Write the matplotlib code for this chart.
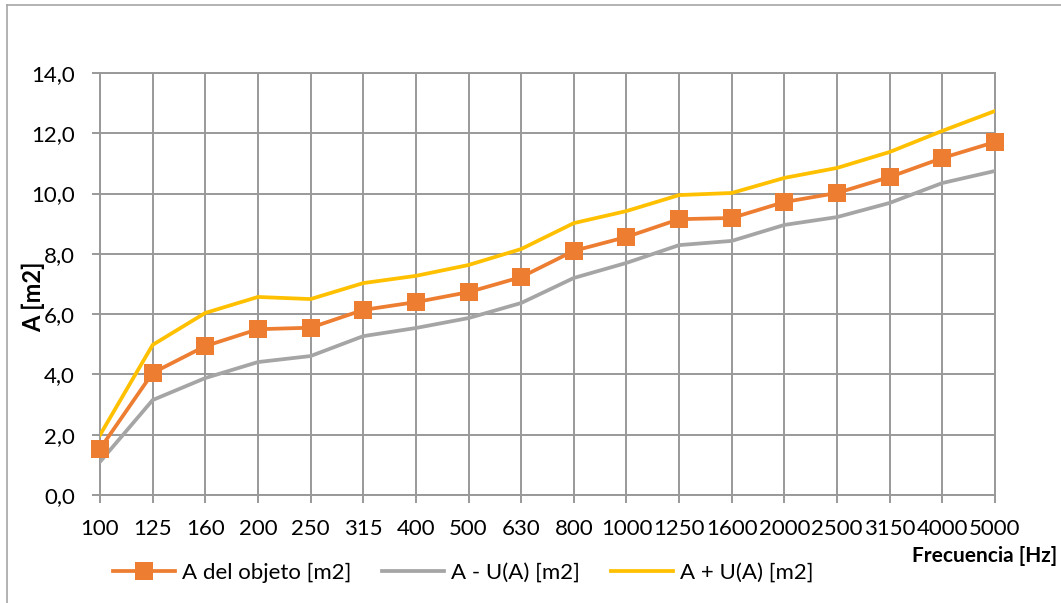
import matplotlib
matplotlib.use("Agg")
import matplotlib.pyplot as plt
from matplotlib.lines import Line2D

plt.rcParams['font.family'] = ['Lato', 'DejaVu Sans']

frequencies = ["100", "125", "160", "200", "250", "315", "400", "500", "630", "800",
               "1000", "1250", "1600", "2000", "2500", "3150", "4000", "5000"]
a_objeto = [1.53, 4.05, 4.94, 5.50, 5.55, 6.14, 6.40, 6.73, 7.23, 8.10,
            8.56, 9.15, 9.19, 9.72, 10.02, 10.55, 11.18, 11.71]
a_menos_u = [1.10, 3.15, 3.88, 4.41, 4.61, 5.27, 5.54, 5.87, 6.37, 7.20,
             7.70, 8.29, 8.43, 8.96, 9.22, 9.69, 10.35, 10.75]
a_mas_u = [1.99, 4.98, 6.04, 6.57, 6.50, 7.03, 7.27, 7.63, 8.16, 9.02,
           9.42, 9.95, 10.02, 10.52, 10.85, 11.38, 12.08, 12.74]
y_ticks = [0, 2, 4, 6, 8, 10, 12, 14]
series_labels = ["A del objeto [m2]", "A - U(A) [m2]", "A + U(A) [m2]"]

W, H = 1061, 603
fig = plt.figure(figsize=(W / 100, H / 100), dpi=100)
ax = fig.add_axes([100 / W, 1 - 495 / H, (995 - 100) / W, (495 - 73) / H])

x = list(range(len(frequencies)))
grid_c = '#999999'
ax.plot(x, a_objeto, color='#ED7D31', lw=2.7, marker='s', markersize=12.5,
        markeredgewidth=0, label=series_labels[0], zorder=4, clip_on=False)
ax.plot(x, a_menos_u, color='#A5A5A5', lw=2.7, label=series_labels[1], zorder=3)
ax.plot(x, a_mas_u, color='#FFC000', lw=2.7, label=series_labels[2], zorder=3)

ax.set_xlim(0, len(frequencies) - 1)
ax.set_ylim(0, 14)
ax.set_xticks(x)
ax.set_xticklabels(frequencies, fontsize=16)
ax.set_yticks(y_ticks)
ax.set_yticklabels([f"{v:.1f}".replace('.', ',') for v in y_ticks], fontsize=16)
ax.grid(True, color=grid_c, lw=1.4, zorder=0)
ax.set_axisbelow(True)
for s in ax.spines.values():
    s.set_color(grid_c)
    s.set_linewidth(1.4)
ax.tick_params(axis='both', direction='out', length=6, width=1.4, color=grid_c)
ax.tick_params(axis='y', pad=12)
ax.tick_params(axis='x', pad=11)

fig.text(33 / W, 1 - 297 / H, "A [m2]", rotation=90, fontsize=17, fontweight='bold',
         ha='center', va='center')
fig.text(1057 / W, 1 - 556 / H, "Frecuencia [Hz]", fontsize=15, fontweight='bold',
         ha='right', va='center')

fig.legend(loc='center', bbox_to_anchor=(463 / W, 1 - 573 / H), ncol=3, frameon=False,
           fontsize=16, handlelength=2.8, handletextpad=0.3, columnspacing=1.4)

border_c = '#A6A6A6'
fig.add_artist(Line2D([7 / W, 7 / W], [1 - 5 / H, 0], transform=fig.transFigure,
                      color=border_c, lw=1.2))
fig.add_artist(Line2D([7 / W, 1], [1 - 5 / H, 1 - 5 / H], transform=fig.transFigure,
                      color=border_c, lw=1.2))

fig.savefig("out.png", dpi=100)
